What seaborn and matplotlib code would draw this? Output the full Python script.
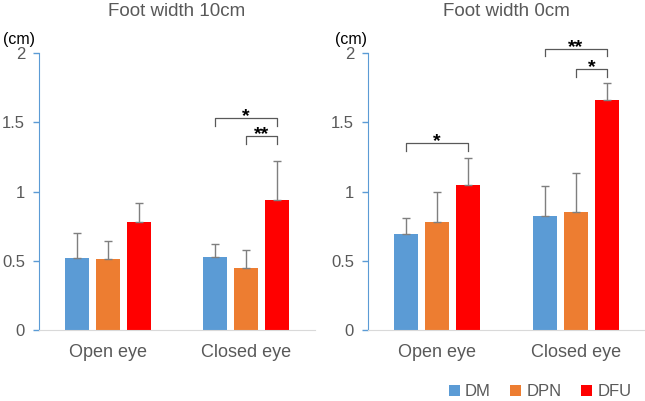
import numpy as np
import pandas as pd
import matplotlib
matplotlib.use("Agg")
import matplotlib.pyplot as plt
from matplotlib.patches import Patch
import seaborn as sns

# data
conditions = ["Open eye", "Closed eye"]
groups = ["DM", "DPN", "DFU"]
colors = ["#5B9BD5", "#ED7D31", "#FF0000"]

# Foot width 10cm
w10_mean = {"DM": [0.52, 0.53], "DPN": [0.51, 0.45], "DFU": [0.78, 0.94]}
w10_sd = {"DM": [0.18, 0.09], "DPN": [0.13, 0.13], "DFU": [0.14, 0.28]}
# Foot width 0cm
w0_mean = {"DM": [0.69, 0.82], "DPN": [0.78, 0.85], "DFU": [1.05, 1.66]}
w0_sd = {"DM": [0.12, 0.22], "DPN": [0.22, 0.28], "DFU": [0.19, 0.12]}

# significance brackets: (condition index, group a, group b, height, label)
w10_sig = [(1, "DM", "DFU", 1.53, "*"), (1, "DPN", "DFU", 1.40, "**")]
w0_sig = [(0, "DM", "DFU", 1.35, "*"), (1, "DM", "DFU", 2.03, "**"), (1, "DPN", "DFU", 1.885, "*")]

text_gray = "#595959"
plt.rcParams["font.family"] = ["Liberation Sans", "DejaVu Sans"]

fig = plt.figure(figsize=(6.45, 4.01), dpi=100)
ax1 = fig.add_axes([39/645, 1-330/401, 276/645, 277/401])
ax2 = fig.add_axes([368/645, 1-330/401, 277/645, 277/401])


def to_long(means):
    rows = []
    for g in groups:
        for c, v in zip(conditions, means[g]):
            rows.append({"cond": c, "group": g, "value": v})
    return pd.DataFrame(rows)


def panel(ax, means, sds, sigs, title, cm_x):
    df = to_long(means)
    sns.barplot(data=df, x="cond", y="value", hue="group", order=conditions,
                hue_order=groups, palette=colors, width=0.675, gap=0.23,
                errorbar=None, legend=False, ax=ax, saturation=1)
    centers = {}
    for g, cont in zip(groups, ax.containers):
        xs = [p.get_x() + p.get_width()/2 for p in cont.patches]
        centers[g] = xs
        ax.errorbar(xs, means[g], yerr=[np.zeros(len(xs)), sds[g]], fmt="none",
                    ecolor="#7f7f7f", elinewidth=1, capsize=3, capthick=1, zorder=1)
    for ci, a, b, h, lab in sigs:
        xa, xb = centers[a][ci], centers[b][ci]
        ax.plot([xa, xa, xb, xb], [h-0.055, h, h, h-0.055], color=text_gray,
                lw=0.9, clip_on=False)
        ax.text((xa+xb)/2, h-0.022, lab, ha="center", va="baseline", fontsize=14,
                fontweight="bold", color="black")
    ax.set_ylim(0, 2)
    ax.set_xlim(-0.5, 1.5)
    ax.set_yticks([0, 0.5, 1, 1.5, 2])
    ax.set_yticklabels(["0", "0.5", "1", "1.5", "2"])
    ax.set_xlabel("")
    ax.set_ylabel("")
    for s in ["top", "right"]:
        ax.spines[s].set_visible(False)
    ax.spines["left"].set_color("#5B9BD5")
    ax.spines["bottom"].set_color("#D9D9D9")
    ax.tick_params(axis="y", colors="#5B9BD5", labelcolor=text_gray, labelsize=12,
                   length=4, width=1, pad=6)
    ax.tick_params(axis="x", length=0, labelcolor=text_gray, labelsize=13, pad=10)
    ax.set_facecolor("white")
    ax.text(cm_x, 1.047, "(cm)", transform=ax.transAxes, ha="center", va="center",
            fontsize=11.5, color="black")
    ax.set_title(title, fontsize=13.5, color=text_gray, pad=27)


panel(ax1, w10_mean, w10_sd, w10_sig, "Foot width 10cm", -0.072)
panel(ax2, w0_mean, w0_sd, w0_sig, "Foot width 0cm", -0.061)

handles = [Patch(facecolor=c, label=g) for g, c in zip(groups, colors)]
fig.legend(handles=handles, loc="center", bbox_to_anchor=(540/645, 1-392/401),
           ncol=3, frameon=False, fontsize=12, handlelength=0.65, handleheight=0.65,
           handletextpad=0.3, columnspacing=1.2, labelcolor=text_gray)

fig.savefig("out.png", dpi=100, facecolor="white")
